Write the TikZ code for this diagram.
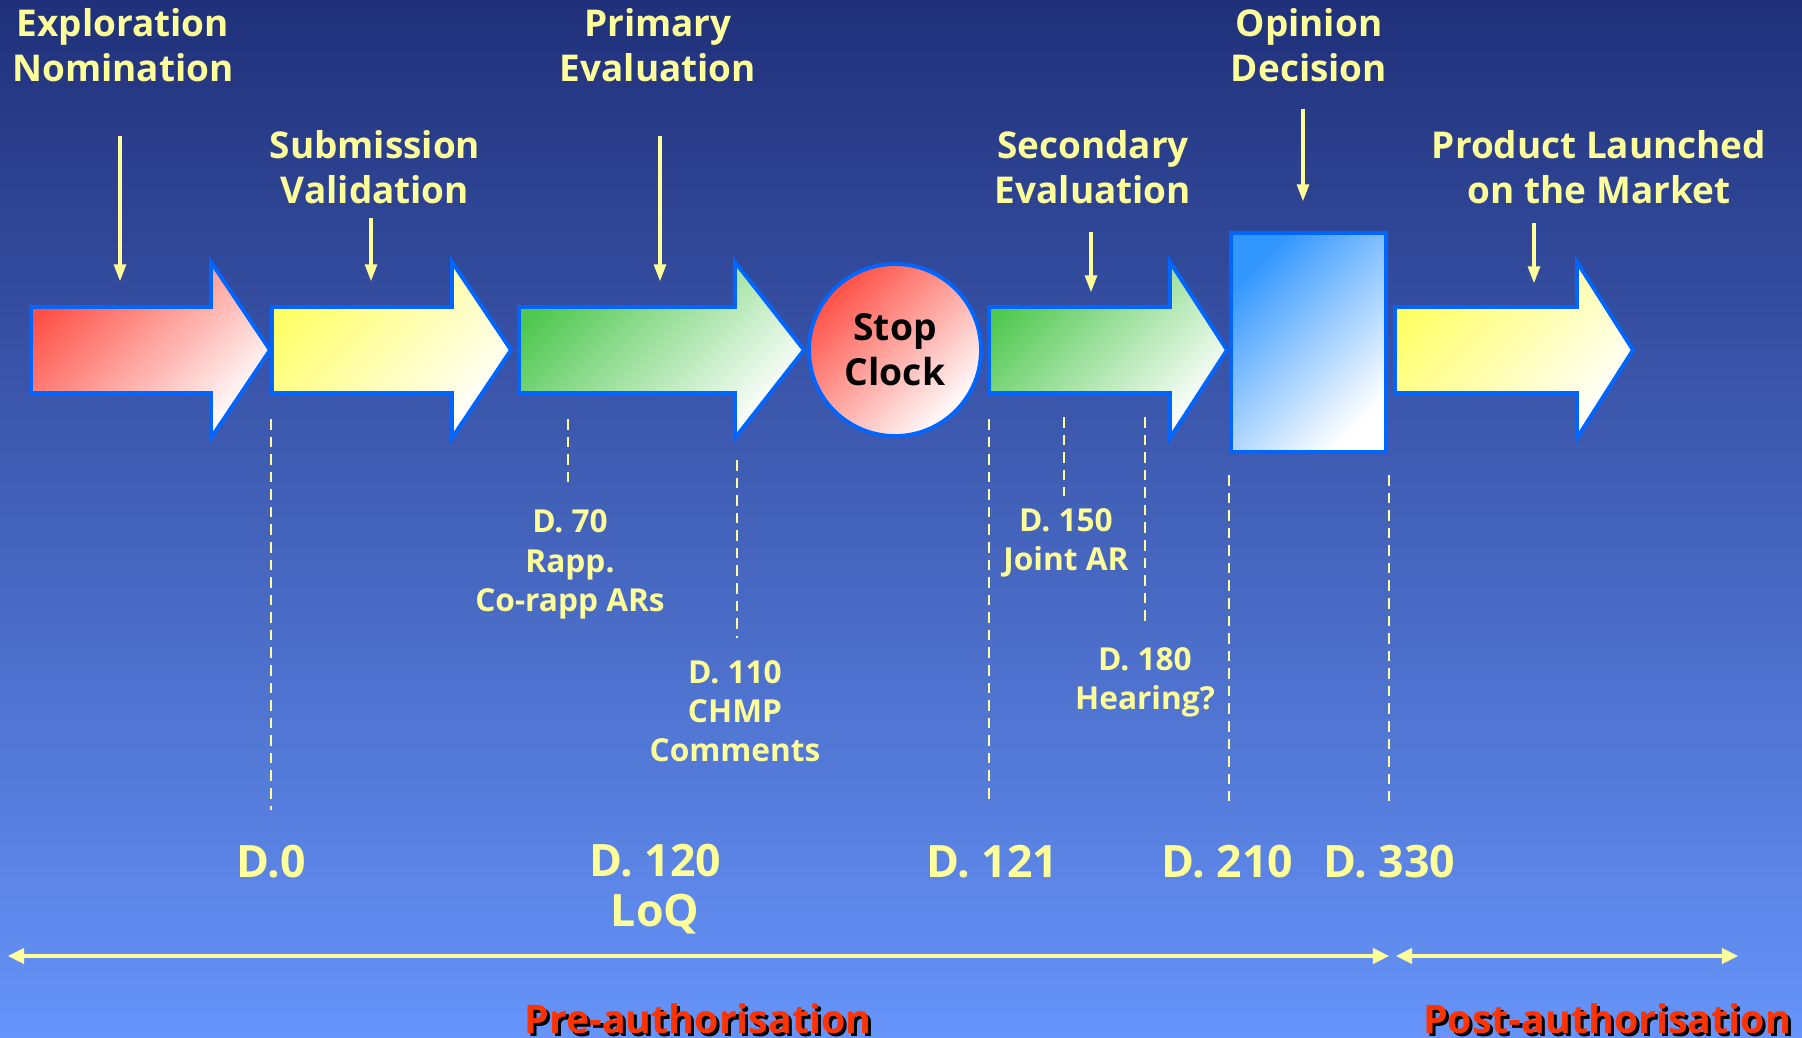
\documentclass[tikz,border=0pt]{standalone}
\usepackage{fontspec}
\setmainfont{Open Sans}
\usepackage{tikz}
\usetikzlibrary{shapes.geometric,arrows,arrows.meta,positioning}
\definecolor{bgtop}{RGB}{32,48,122}
\definecolor{bgbot}{RGB}{102,148,250}
\definecolor{txtyellow}{RGB}{255,255,153}
\definecolor{outline}{RGB}{0,102,255}
\definecolor{redA}{RGB}{255,80,70}
\definecolor{yellowA}{RGB}{255,255,100}
\definecolor{greenA}{RGB}{80,200,80}
\definecolor{blueA}{RGB}{50,150,255}
\definecolor{redtext}{RGB}{255,51,0}

\begin{document}
\begin{tikzpicture}[x=0.1mm, y=-0.1mm,
   lbl/.style={text=txtyellow, align=center, inner sep=0pt, anchor=base, font=\bfseries\fontsize{10.5}{12.8}\selectfont},
   daylbl/.style={lbl, font=\bfseries\fontsize{9}{11.1}\selectfont},
   biglbl/.style={lbl, font=\bfseries\fontsize{12.7}{14}\selectfont},
   phase/.style={text=redtext, inner sep=0pt, anchor=base, font=\bfseries\fontsize{11.2}{13}\selectfont},
   bigarrow/.style={draw=outline, line width=1.1pt, top color=#1, bottom color=white, shading angle=45},
   pointer/.style={draw=txtyellow, line width=1.4pt, -{Triangle[width=3.2pt,length=5pt]}},
   tick/.style={draw=txtyellow, line width=0.8pt, dash pattern=on 3pt off 2pt},
   span/.style={draw=txtyellow, line width=0.9pt, {Triangle[width=4.4pt,length=4.6pt]}-{Triangle[width=4.4pt,length=4.6pt]}}]
   \useasboundingbox (0,0) rectangle (1802,1037);
   \shade[top color=bgtop, bottom color=bgbot] (0,0) rectangle (1802,1037);
   % phase arrows
   \draw[bigarrow=redA] (31,307) -- (211,307) -- (211,262) -- (270,350) -- (211,438) -- (211,393) -- (31,393) -- cycle;
   \draw[bigarrow=yellowA] (272,307) -- (452,307) -- (452,262) -- (511,350) -- (452,438) -- (452,393) -- (272,393) -- cycle;
   \draw[bigarrow=greenA] (519,307) -- (735,307) -- (735,262) -- (804,350) -- (735,438) -- (735,393) -- (519,393) -- cycle;
   \draw[bigarrow=greenA] (989,307) -- (1170,307) -- (1170,262) -- (1227,350) -- (1170,438) -- (1170,393) -- (989,393) -- cycle;
   \draw[bigarrow=yellowA] (1395,307) -- (1577,307) -- (1577,262) -- (1633,350) -- (1577,438) -- (1577,393) -- (1395,393) -- cycle;
   \node[circle, bigarrow=redA, minimum size=17.2mm, inner sep=0pt, align=center,
         font=\bfseries\fontsize{10.6}{12.8}\selectfont] (stop) at (895,350) {Stop\\Clock};
   \node[rectangle, bigarrow=blueA, minimum width=15.5mm, minimum height=21.9mm, inner sep=0pt] (opinbox) at (1308.5,342.5) {};
   % phase names (anchor is the last baseline)
   \node[lbl] (expl) at (123,81) {Exploration\\Nomination};
   \node[lbl] (subm) at (375,203) {Submission\\Validation};
   \node[lbl] (prim) at (658,81) {Primary\\Evaluation};
   \node[lbl] (seco) at (1093,203) {Secondary\\Evaluation};
   \node[lbl] (opin) at (1309,81) {Opinion\\Decision};
   \node[lbl] (prod) at (1599,203) {Product Launched\\on the Market};
   \foreach \n/\x/\ya/\yb in {expl/120/136/282, subm/371/218/282, prim/660/136/282,
                              seco/1091/232/293, opin/1303/109/202, prod/1534/223/284} {
     \coordinate (\n top) at (\x,\ya);
     \coordinate (\n end) at (\x,\yb);
     \draw[pointer] (\n top) -- (\n end);
   }
   % day ticks
   \foreach \x/\ya/\yb in {271/419/810, 568/419/483, 737/460/638, 989/419/801,
                           1064/417/496, 1145/417/626, 1229/475/801, 1389/475/801}
     \draw[tick] (\x,\ya) -- (\x,\yb);
   \node[daylbl] (d70) at (570,611) {D. 70\\Rapp.\\Co-rapp ARs};
   \node[daylbl] (d110) at (735,761) {D. 110\\CHMP\\Comments};
   \node[daylbl] (d150) at (1066,570) {D. 150\\Joint AR};
   \node[daylbl] (d180) at (1145,709) {D. 180\\Hearing?};
   \node[biglbl] (d0) at (271,877) {D.0};
   \node[biglbl] (d120) at (655,926) {D. 120\\LoQ};
   \node[biglbl] (d121) at (992,877) {D. 121};
   \node[biglbl] (d210) at (1227,877) {D. 210};
   \node[biglbl] (d330) at (1389,877) {D. 330};
   % authorisation spans
   \coordinate (preL) at (8,956);
   \coordinate (preR) at (1389,956);
   \coordinate (postL) at (1396,956);
   \coordinate (postR) at (1738,956);
   \draw[span] (preL) -- (preR);
   \draw[span] (postL) -- (postR);
   \node[phase, text=black] at (701,1036) {Pre-authorisation};
   \node[phase] (pre) at (698,1033) {Pre-authorisation};
   \node[phase, text=black] at (1610,1036) {Post-authorisation};
   \node[phase] (post) at (1607,1033) {Post-authorisation};
\end{tikzpicture}
\end{document}
